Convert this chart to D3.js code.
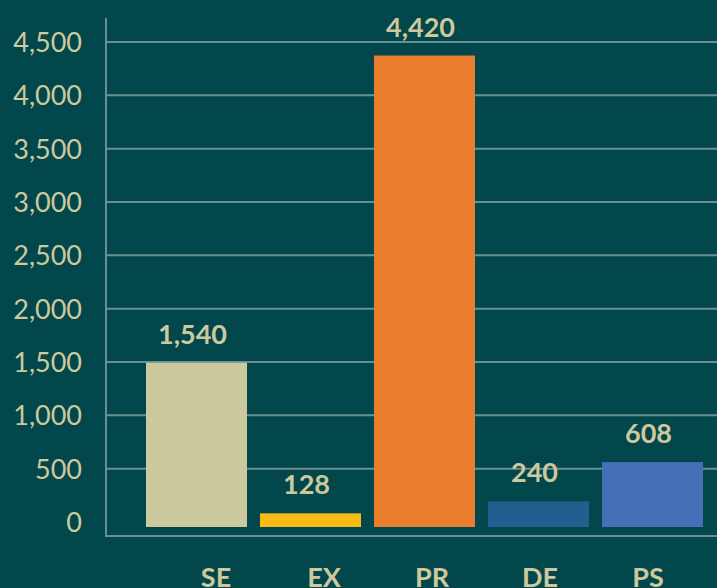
<!DOCTYPE html>
<html>
<head>
<meta charset="utf-8">
<script src="https://cdn.jsdelivr.net/npm/d3@7"></script>
<style>
  body { margin: 0; background: #01474b; }
  svg { display: block; font-family: Lato, "Open Sans", sans-serif; }
</style>
</head>
<body>
<svg class="plot" width="717" height="588"></svg>
<script>
const categories = ["SE", "EX", "PR", "DE", "PS"]
const values = [1540, 128, 4420, 240, 608]
const barColors = ["#cdc99f", "#f6bb15", "#eb7d2f", "#245d8f", "#4570b7"]
const yTicks = [0, 500, 1000, 1500, 2000, 2500, 3000, 3500, 4000, 4500]

const textColor = "#cfc89c"
const gridColor = "#6b8f8f"

function renderChart() {
  const svg = d3.select(".plot");
  const width = +svg.attr("width");

  const y = d3.scaleLinear()
    .domain([0, 4500])
    .range([522, 42]);

  const x = d3.scaleBand()
    .domain(categories)
    .range([146, 703])
    .paddingInner(0.114)
    .paddingOuter(0);

  // category labels sit on their own spacing, slightly off the bars
  const xLabel = d3.scalePoint()
    .domain(categories)
    .range([216, 648]);

  // gridlines (no line at 0)
  svg.append("g")
    .selectAll("line")
    .data(yTicks.filter(d => d > 0))
    .enter().append("line")
    .attr("x1", 106)
    .attr("x2", width)
    .attr("y1", d => y(d))
    .attr("y2", d => y(d))
    .attr("stroke", gridColor)
    .attr("stroke-width", 2);

  // y axis line + bottom line
  svg.append("line")
    .attr("x1", 106).attr("x2", 106)
    .attr("y1", 18).attr("y2", 536)
    .attr("stroke", gridColor)
    .attr("stroke-width", 2);

  svg.append("line")
    .attr("x1", 105).attr("x2", width)
    .attr("y1", 536).attr("y2", 536)
    .attr("stroke", gridColor)
    .attr("stroke-width", 2);

  // y tick labels
  svg.append("g")
    .selectAll("text")
    .data(yTicks)
    .enter().append("text")
    .attr("x", 82)
    .attr("y", d => y(d) + 3)
    .attr("text-anchor", "end")
    .attr("dominant-baseline", "middle")
    .attr("fill", textColor)
    .style("font-size", "27px")
    .text(d => d3.format(",")(d));

  const rows = categories.map((c, i) => ({ cat: c, value: values[i], color: barColors[i] }));

  // bars sit a few px below the zero line
  const bars = svg.append("g")
    .attr("transform", "translate(0,5)");

  bars.selectAll("rect")
    .data(rows)
    .enter().append("rect")
    .attr("x", d => x(d.cat))
    .attr("width", x.bandwidth())
    .attr("y", d => y(d.value))
    .attr("height", d => y(0) - y(d.value))
    .attr("fill", d => d.color);

  // value labels
  bars.selectAll(".val")
    .data(rows)
    .enter().append("text")
    .attr("class", "val")
    .attr("x", d => x(d.cat) + x.bandwidth() / 2 - 4)
    .attr("y", d => y(d.value) - 19)
    .attr("text-anchor", "middle")
    .attr("fill", textColor)
    .style("font-size", "27px")
    .style("font-weight", "bold")
    .text(d => d3.format(",")(d.value));

  // category labels
  svg.append("g")
    .selectAll("text")
    .data(categories)
    .enter().append("text")
    .attr("x", d => xLabel(d))
    .attr("y", 587)
    .attr("text-anchor", "middle")
    .attr("fill", textColor)
    .style("font-size", "27px")
    .style("font-weight", "bold")
    .text(d => d);
}

window.addEventListener('load', renderChart);
</script>
</body>
</html>
